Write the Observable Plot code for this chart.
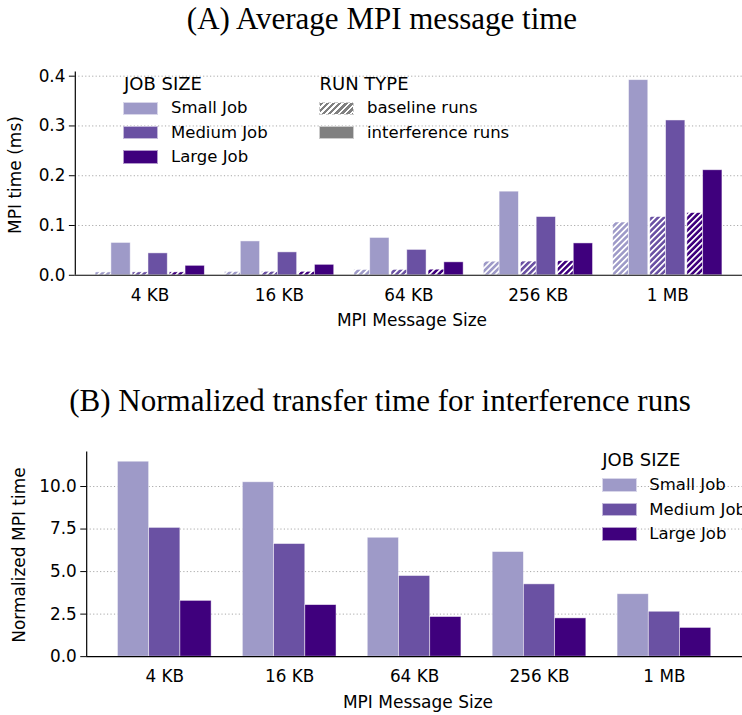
<!DOCTYPE html>
<html>
<head>
<meta charset="utf-8">
<script src="https://cdn.jsdelivr.net/npm/d3@7"></script>
<script src="https://cdn.jsdelivr.net/npm/@observablehq/plot@0.6"></script>
<style>
  html, body { margin: 0; padding: 0; background: #fff; overflow: hidden; }
  #root { position: relative; width: 742px; height: 715px; overflow: hidden;
          font-family: "DejaVu Sans", sans-serif; color: #000; }
  .abs { position: absolute; white-space: nowrap; line-height: 1; }
  .title { font-family: "Liberation Serif", serif; font-size: 31px; transform: translateX(-50%); }
  .axlabel { font-size: 17px; }
  .ylabel { font-size: 17px; transform: translate(-50%, -50%) rotate(-90deg); }
  .legtitle { font-size: 18px; }
  .legtext { font-size: 16.5px; }
  .swatch { position: absolute; width: 35px; height: 13.5px; box-sizing: border-box;
            border: 0.8px solid rgba(255,255,255,0.6); }
</style>
</head>
<body>
<div id="root"></div>
<script>
// Message sizes and job sizes
const sizes = ["4 KB", "16 KB", "64 KB", "256 KB", "1 MB"];
const jobs = ["Small Job", "Medium Job", "Large Job"];
const jobColors = ["#9e9ac8", "#6a51a3", "#3f007d"];
const runTypes = ["baseline runs", "interference runs"];

// (A) average MPI message time in ms, baseline runs
const baselineSmall  = [0.0057, 0.0066, 0.0107, 0.0273, 0.106];
const baselineMedium = [0.0058, 0.0069, 0.0108, 0.0275, 0.117];
const baselineLarge  = [0.0058, 0.0069, 0.0112, 0.0284, 0.125];
// (A) average MPI message time in ms, interference runs
const interferenceSmall  = [0.065, 0.068, 0.075, 0.168, 0.392];
const interferenceMedium = [0.044, 0.046, 0.051, 0.117, 0.311];
const interferenceLarge  = [0.019, 0.021, 0.026, 0.064, 0.211];

// (B) normalized transfer time for interference runs
const normSmall  = [11.46, 10.25, 6.99, 6.15, 3.67];
const normMedium = [7.57, 6.62, 4.74, 4.25, 2.64];
const normLarge  = [3.28, 3.03, 2.33, 2.25, 1.69];

// Tick values
const ticksA = [0, 0.1, 0.2, 0.3, 0.4];
const ticksB = [0, 2.5, 5, 7.5, 10];

const baseline = [baselineSmall, baselineMedium, baselineLarge];
const interference = [interferenceSmall, interferenceMedium, interferenceLarge];
const normalized = [normSmall, normMedium, normLarge];

const root = document.getElementById("root");
const W = 749; // axes run slightly past the visible page edge

function addDiv(cls, text, style) {
  const d = document.createElement("div");
  d.className = "abs " + cls;
  d.textContent = text;
  Object.assign(d.style, style);
  root.appendChild(d);
  return d;
}

function addSwatch(left, top, background) {
  const s = document.createElement("div");
  s.className = "swatch";
  s.style.left = left + "px";
  s.style.top = top + "px";
  s.style.background = background;
  root.appendChild(s);
}

const hatchCss = c =>
  `repeating-linear-gradient(135deg, ${c} 0px, ${c} 2.6px, #fff 2.6px, #fff 4.3px)`;

// Diagonal white hatching used for the baseline bars
function addHatchDefs(svg, prefix, colors) {
  const defs = d3.select(svg).insert("defs", ":first-child");
  colors.forEach((c, j) => {
    const p = defs.append("pattern")
      .attr("id", `${prefix}-${j}`)
      .attr("patternUnits", "userSpaceOnUse")
      .attr("width", 4.3).attr("height", 4.3)
      .attr("patternTransform", "rotate(45)");
    p.append("rect").attr("width", 4.3).attr("height", 4.3).attr("fill", c);
    p.append("rect").attr("width", 1.7).attr("height", 4.3).attr("fill", "#fff");
  });
}

const plotStyle = { fontFamily: "DejaVu Sans", fontSize: "17px", background: "transparent", overflow: "visible" };
const grid = "#a8a8a8";

// ---------- (A) Average MPI message time ----------
const rowsA = [];
sizes.forEach((s, i) => jobs.forEach((job, j) => {
  const left = i - 0.421 + j * 0.2865;
  rowsA.push({
    size: s, job, j,
    baseline: baseline[j][i], interference: interference[j][i],
    bx1: left, bx2: left + 0.122, ix1: left + 0.122, ix2: left + 0.271
  });
}));

const xDomA = [-0.578, 4.578];
const chartA = Plot.plot({
  width: W, height: 300,
  marginTop: 31.7, marginBottom: 63, marginLeft: 75.5, marginRight: 0,
  style: plotStyle,
  x: { domain: xDomA },
  y: { domain: [0, 0.4086] },
  color: { domain: jobs, range: jobColors },
  marks: [
    Plot.ruleY(ticksA.filter(d => d > 0), { stroke: grid, strokeDasharray: "1.2,2.3", strokeWidth: 1 }),
    ...jobs.map((job, j) => Plot.rect(rowsA.filter(d => d.j === j), {
      x1: "bx1", x2: "bx2", y1: 0, y2: "baseline",
      fill: `url(#hatchA-${j})`, stroke: "white", strokeOpacity: 0.6, strokeWidth: 0.8
    })),
    Plot.rect(rowsA, {
      x1: "ix1", x2: "ix2", y1: 0, y2: "interference",
      fill: "job", stroke: "white", strokeOpacity: 0.6, strokeWidth: 0.8
    }),
    Plot.ruleY([0], { stroke: "black", strokeWidth: 1.2 }),
    Plot.ruleX([xDomA[0]], { stroke: "black", strokeWidth: 1.2 }),
    Plot.axisY({ ticks: ticksA, tickFormat: d3.format(".1f"), tickSize: 6, tickPadding: 4, label: null }),
    Plot.axisX({ ticks: d3.range(sizes.length), tickFormat: i => sizes[i], tickSize: 0, tickPadding: 14, label: null })
  ]
});
addHatchDefs(chartA, "hatchA", jobColors);
chartA.style.position = "absolute";
chartA.style.left = "0px";
chartA.style.top = "40px";
root.appendChild(chartA);

// ---------- (B) Normalized transfer time ----------
const rowsB = [];
sizes.forEach((s, i) => jobs.forEach((job, j) => {
  const left = i - 0.375 + j * 0.25;
  rowsB.push({ size: s, job, value: normalized[j][i], x1: left, x2: left + 0.25 });
}));

const xDomB = [-0.625, 4.625];
const chartB = Plot.plot({
  width: W, height: 285,
  marginTop: 21.7, marginBottom: 56.7, marginLeft: 87, marginRight: 0,
  style: plotStyle,
  x: { domain: xDomB },
  y: { domain: [0, 12.03] },
  color: { domain: jobs, range: jobColors },
  marks: [
    Plot.ruleY(ticksB.filter(d => d > 0), { stroke: grid, strokeDasharray: "1.2,2.3", strokeWidth: 1 }),
    Plot.rect(rowsB, {
      x1: "x1", x2: "x2", y1: 0, y2: "value",
      fill: "job", stroke: "white", strokeOpacity: 0.6, strokeWidth: 0.8
    }),
    Plot.ruleY([0], { stroke: "black", strokeWidth: 1.2 }),
    Plot.ruleX([xDomB[0]], { stroke: "black", strokeWidth: 1.2 }),
    Plot.axisY({ ticks: ticksB, tickFormat: d3.format(".1f"), tickSize: 6, tickPadding: 4, label: null }),
    Plot.axisX({ ticks: d3.range(sizes.length), tickFormat: i => sizes[i], tickSize: 0, tickPadding: 14, label: null })
  ]
});
chartB.style.position = "absolute";
chartB.style.left = "0px";
chartB.style.top = "430px";
root.appendChild(chartB);

// ---------- Titles and axis labels ----------
addDiv("title", "(A) Average MPI message time", { left: "382px", top: "3px" });
addDiv("title", "(B) Normalized transfer time for interference runs", { left: "380px", top: "385px" });

addDiv("axlabel", "MPI Message Size", { left: "412px", top: "312px", transform: "translateX(-50%)" });
addDiv("axlabel", "MPI Message Size", { left: "418px", top: "693.5px", transform: "translateX(-50%)" });
addDiv("ylabel", "MPI time (ms)", { left: "15px", top: "175px" });
addDiv("ylabel", "Normalized MPI time", { left: "18.5px", top: "555px" });

// ---------- Legends ----------
// (A) job size
addDiv("legtitle", "JOB SIZE", { left: "124px", top: "74.6px" });
jobs.forEach((job, j) => {
  const cy = 108.3 + j * 24.4;
  addSwatch(123, cy - 6.75, jobColors[j]);
  addDiv("legtext", job, { left: "171px", top: (cy - 7.9) + "px" });
});
// (A) run type
addDiv("legtitle", "RUN TYPE", { left: "319.5px", top: "74.6px" });
runTypes.forEach((rt, k) => {
  const cy = 108.3 + k * 24.4;
  addSwatch(318.5, cy - 6.75, k === 0 ? hatchCss("#808080") : "#808080");
  addDiv("legtext", rt, { left: "367px", top: (cy - 7.9) + "px" });
});
// (B) job size
addDiv("legtitle", "JOB SIZE", { left: "602.3px", top: "451.3px" });
jobs.forEach((job, j) => {
  const cy = 485 + j * 24.5;
  addSwatch(601.7, cy - 6.75, jobColors[j]);
  addDiv("legtext", job, { left: "649.3px", top: (cy - 7.9) + "px" });
});
</script>
</body>
</html>
